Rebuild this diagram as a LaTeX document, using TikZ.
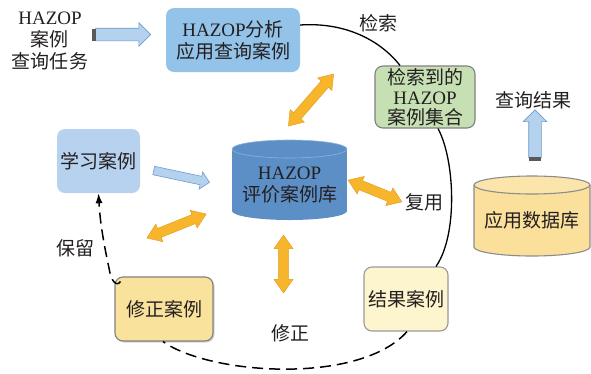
\documentclass[tikz,border=0pt]{standalone}
\usepackage{fontspec}
\setmainfont{Noto Sans CJK SC}
\newfontfamily\latinfont{Liberation Serif}
\usetikzlibrary{shapes.arrows,shadows,arrows.meta,calc}
\newcommand\hz{{\latinfont HAZOP}}
\definecolor{qblue}{HTML}{93C3E9}
\definecolor{lblue}{HTML}{B6D2EE}
\definecolor{ggreen}{HTML}{C6E0B4}
\definecolor{fyellow}{HTML}{F9E29B}
\definecolor{ryellow}{HTML}{FDF5CD}
\definecolor{dbblue}{HTML}{5D8FC7}
\definecolor{dbedge}{HTML}{8DB3DC}
\definecolor{ayellow}{HTML}{FBE09C}
\definecolor{oarrow}{HTML}{F7B52C}
\definecolor{oedge}{HTML}{E09A1A}
\definecolor{barrow}{HTML}{B4D1EE}
\definecolor{bedge}{HTML}{6F9BCF}
\definecolor{txt}{HTML}{231F20}
\tikzset{
  cjkfont/.style={font=\fontsize{19}{22}\selectfont},
  casebox/.style={rounded corners=8pt, align=center, inner sep=0pt, text=txt, cjkfont},
  greybord/.style={draw=black!50, line width=1.1pt},
  darr/.style={shape=double arrow, fill=oarrow, draw=oedge, line width=0.4pt,
    minimum width=19pt, double arrow head extend=4.5pt, double arrow tip angle=70,
    inner xsep=0pt, inner ysep=4.5pt},
  sarr/.style={shape=single arrow, fill=barrow, draw=bedge, line width=0.6pt, inner xsep=0pt},
  link/.style={line width=1.3pt, black},
  dlink/.style={line width=1.5pt, black, dash pattern=on 11pt off 6pt},
  lbl/.style={cjkfont, text=txt}
}
\begin{document}
\begin{tikzpicture}[x=1pt,y=-1pt]
\useasboundingbox (0,0) rectangle (591,373);

% query task text
\node[align=center, text=txt, font=\fontsize{19}{22}\selectfont] (task) at (50,41) {\hz\\案例\\查询任务};

% top arrow
\node[sarr, minimum height=55pt, minimum width=23pt, inner ysep=6pt, single arrow head extend=5.5pt] (a1) at (120,34.5) {};
\fill[black!65] (92,28.5) rectangle (96,40.5);

% boxes
\node[casebox, fill=qblue, minimum width=134pt, minimum height=64pt] (query) at (233,40) {\hz 分析\\应用查询案例};
\node[casebox, fill=ggreen, greybord, minimum width=100pt, minimum height=62pt, font=\fontsize{19}{20}\selectfont] (green) at (425,97) {检索到的\\\hz\\案例集合};
\node[casebox, fill=lblue, minimum width=83pt, minimum height=64pt] (learn) at (98.5,161) {学习案例};
\node[casebox, fill=fyellow, greybord, minimum width=98pt, minimum height=64pt, drop shadow={shadow xshift=1.5pt, shadow yshift=-1.5pt, opacity=0.35}] (fix) at (164,309) {修正案例};
\node[casebox, fill=ryellow, draw=black!40, line width=1.1pt, minimum width=84pt, minimum height=64pt] (result) at (406,299) {结果案例};

% case base cylinder
\fill[dbblue] (232,149) rectangle (347,211);
\fill[dbblue] (289.5,211) ellipse [x radius=57.5, y radius=9];
\fill[dbblue] (289.5,149) ellipse [x radius=57.5, y radius=9];
\draw[dbedge, line width=0.6pt] (289.5,149) ellipse [x radius=57.5, y radius=9];
\node[align=center, text=txt, font=\fontsize{19}{22}\selectfont, minimum width=115pt, minimum height=80pt] (db) at (289.5,185) {\hz\\评价案例库};

% application database cylinder
\fill[ayellow] (474,185) rectangle (590,247);
\fill[ayellow] (532,247) ellipse [x radius=58, y radius=9];
\draw[black!45, line width=1.1pt] (474,185) -- (474,247) arc[start angle=180, end angle=0, x radius=58, y radius=9] -- (590,185);
\fill[ayellow!85!white] (532,185) ellipse [x radius=58, y radius=9];
\draw[black!45, line width=1.1pt] (532,185) ellipse [x radius=58, y radius=9];
\node[lbl, minimum width=116pt, minimum height=60pt] (app) at (532,220) {应用数据库};

% up arrow
\node[sarr, rotate=90, minimum height=48pt, minimum width=23pt, inner ysep=6pt, single arrow head extend=5.5pt] (a2) at (535,137) {};
\fill[black!65] (529,157) rectangle (541,161);

% blue arrow learn -> db
\node[sarr, rotate=-12, minimum height=57pt, minimum width=17pt, inner ysep=4pt, single arrow head extend=4.5pt] (a3) at (179.5,176) {};

% orange double arrows
\node[darr, rotate=49, minimum height=69pt] (r1) at (311,100) {};
\node[darr, rotate=22, minimum height=64pt] (r2) at (176.5,226) {};
\node[darr, rotate=90, minimum height=58pt] (r3) at (283.5,264) {};
\node[darr, rotate=-22, minimum height=58pt] (r4) at (375,191) {};

% connectors
\draw[link] ($(query.east)+(0,-15)$) .. controls (345,22) and (380,40) .. ($(green.north)+(-25,0)$);
\draw[link] ($(green.south)+(13,0)$) .. controls (455,160) and (458,235) .. ($(result.north)+(30,0)$);
\draw[dlink] ($(result.south)+(1,0)$) .. controls (360,385) and (210,375) .. ($(fix.south)+(-1,0)$);
\coordinate (fixstart) at ($(fix.north west)+(6,5)$);
\draw[dlink, -{Latex[length=10pt,width=7pt]}] (fixstart) .. controls (117,287) and (111,282) .. (109,268) .. controls (104,245) and (100,222) .. (learn.south);

% labels
\node[lbl] (l1) at (378,23) {检索};
\node[lbl] (l2) at (533,100) {查询结果};
\node[lbl] (l3) at (424,202) {复用};
\node[lbl] (l4) at (75,248) {保留};
\node[lbl] (l5) at (290,333) {修正};
\end{tikzpicture}
\end{document}
